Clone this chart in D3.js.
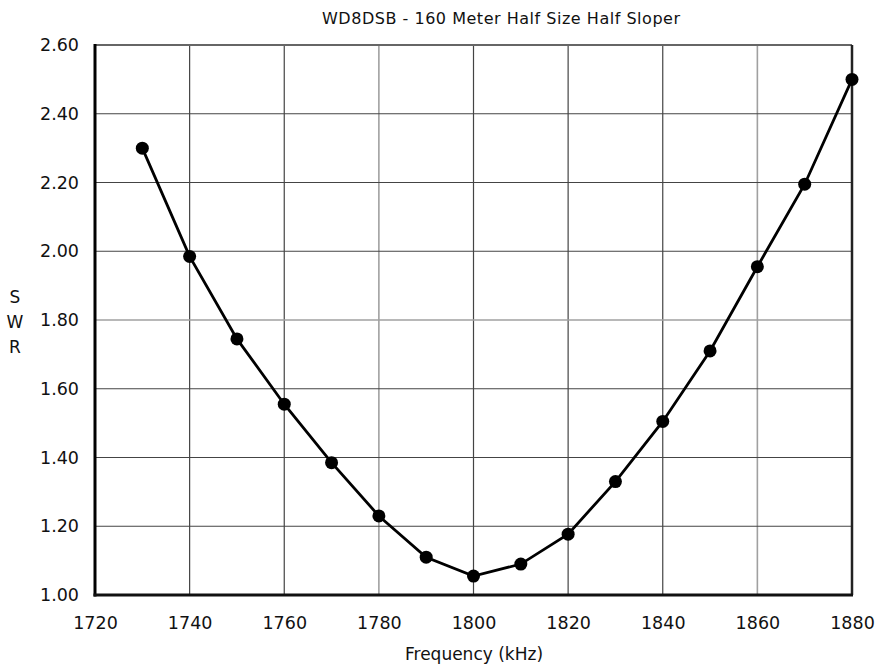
<!DOCTYPE html>
<html>
<head>
<meta charset="utf-8">
<script src="https://cdn.jsdelivr.net/npm/d3@7"></script>
<style>
  body { margin: 0; background: #fff; }
  svg text { font-family: "DejaVu Sans", Verdana, sans-serif; fill: #111; }
</style>
</head>
<body>
<div id="chart"></div>
<script>
/* Data */
var freqs = [1730, 1740, 1750, 1760, 1770, 1780, 1790, 1800, 1810, 1820, 1830, 1840, 1850, 1860, 1870, 1880];
var swr   = [2.30, 1.985, 1.745, 1.555, 1.385, 1.23, 1.11, 1.055, 1.09, 1.177, 1.33, 1.505, 1.71, 1.955, 2.195, 2.50];
var xTicks = [1720, 1740, 1760, 1780, 1800, 1820, 1840, 1860, 1880];
var yTicks = [1.00, 1.20, 1.40, 1.60, 1.80, 2.00, 2.20, 2.40, 2.60];
var lightX = [1780, 1860];   // grid lines that print lighter
var lightY = [1.80];

var W = 877, H = 668;
var margin = { top: 45, left: 95, right: 25, bottom: 73 };
var width = W - margin.left - margin.right,
    height = H - margin.top - margin.bottom;

var svg = d3.select("#chart").append("svg")
    .attr("width", W)
    .attr("height", H);

var g = svg.append("g")
    .attr("transform", "translate(" + margin.left + "," + margin.top + ")");

var x = d3.scaleLinear().domain([1720, 1880]).range([0, width]);
var y = d3.scaleLinear().domain([1.0, 2.6]).range([height, 0]);

/* grid */
g.selectAll(".vgrid").data(xTicks.slice(1, -1)).enter().append("line")
    .attr("x1", function(d) { return x(d); })
    .attr("x2", function(d) { return x(d); })
    .attr("y1", 0).attr("y2", height)
    .attr("stroke", function(d) { return lightX.indexOf(d) >= 0 ? "#a0a0a0" : "#444"; })
    .attr("stroke-width", function(d) { return lightX.indexOf(d) >= 0 ? 1.6 : 1.2; });

g.selectAll(".hgrid").data(yTicks.slice(1, -1)).enter().append("line")
    .attr("y1", function(d) { return y(d); })
    .attr("y2", function(d) { return y(d); })
    .attr("x1", 0).attr("x2", width)
    .attr("stroke", function(d) { return lightY.indexOf(d) >= 0 ? "#a0a0a0" : "#444"; })
    .attr("stroke-width", function(d) { return lightY.indexOf(d) >= 0 ? 1.6 : 1.2; });

/* frame */
g.append("line").attr("x1", 0).attr("x2", width).attr("y1", 0).attr("y2", 0)
    .attr("stroke", "#666").attr("stroke-width", 2);
g.append("line").attr("x1", width).attr("x2", width).attr("y1", 0).attr("y2", height)
    .attr("stroke", "#222").attr("stroke-width", 2.5);
g.append("line").attr("x1", 0).attr("x2", 0).attr("y1", -1).attr("y2", height + 1.5)
    .attr("stroke", "#000").attr("stroke-width", 3);
g.append("line").attr("x1", -1.5).attr("x2", width + 1).attr("y1", height).attr("y2", height)
    .attr("stroke", "#111").attr("stroke-width", 3);

/* tick labels */
var xAxis = d3.axisBottom(x).tickValues(xTicks).tickSize(0).tickPadding(22).tickFormat(d3.format("d"));
var xg = g.append("g").attr("transform", "translate(0," + height + ")").call(xAxis);
xg.select(".domain").remove();
xg.selectAll("text").attr("font-size", 17.5).style("font-family", "DejaVu Sans, sans-serif");

var yAxis = d3.axisLeft(y).tickValues(yTicks).tickSize(0).tickPadding(16).tickFormat(d3.format(".2f"));
var yg = g.append("g").call(yAxis);
yg.select(".domain").remove();
yg.selectAll("text").attr("font-size", 17.5).style("font-family", "DejaVu Sans, sans-serif");

/* data line + markers */
var pts = freqs.map(function(f, i) { return [f, swr[i]]; });
var line = d3.line()
    .x(function(d) { return x(d[0]); })
    .y(function(d) { return y(d[1]); });

g.append("path")
    .datum(pts)
    .attr("d", line)
    .attr("fill", "none")
    .attr("stroke", "#000")
    .attr("stroke-width", 2.8);

g.selectAll(".pt").data(pts).enter().append("circle")
    .attr("cx", function(d) { return x(d[0]); })
    .attr("cy", function(d) { return y(d[1]); })
    .attr("r", 6.5)
    .attr("fill", "#000");

/* titles */
svg.append("text")
    .attr("x", 501)
    .attr("y", 24)
    .attr("text-anchor", "middle")
    .attr("font-size", 16)
    .attr("textLength", 358)
    .attr("lengthAdjust", "spacing")
    .text("WD8DSB - 160 Meter Half Size Half Sloper");

svg.append("text")
    .attr("x", 474)
    .attr("y", 660)
    .attr("text-anchor", "middle")
    .attr("font-size", 17)
    .text("Frequency (kHz)");

["S", "W", "R"].forEach(function(c, i) {
    svg.append("text")
        .attr("x", 15)
        .attr("y", 303 + i * 25)
        .attr("text-anchor", "middle")
        .attr("font-size", 17)
        .text(c);
});
</script>
</body>
</html>
